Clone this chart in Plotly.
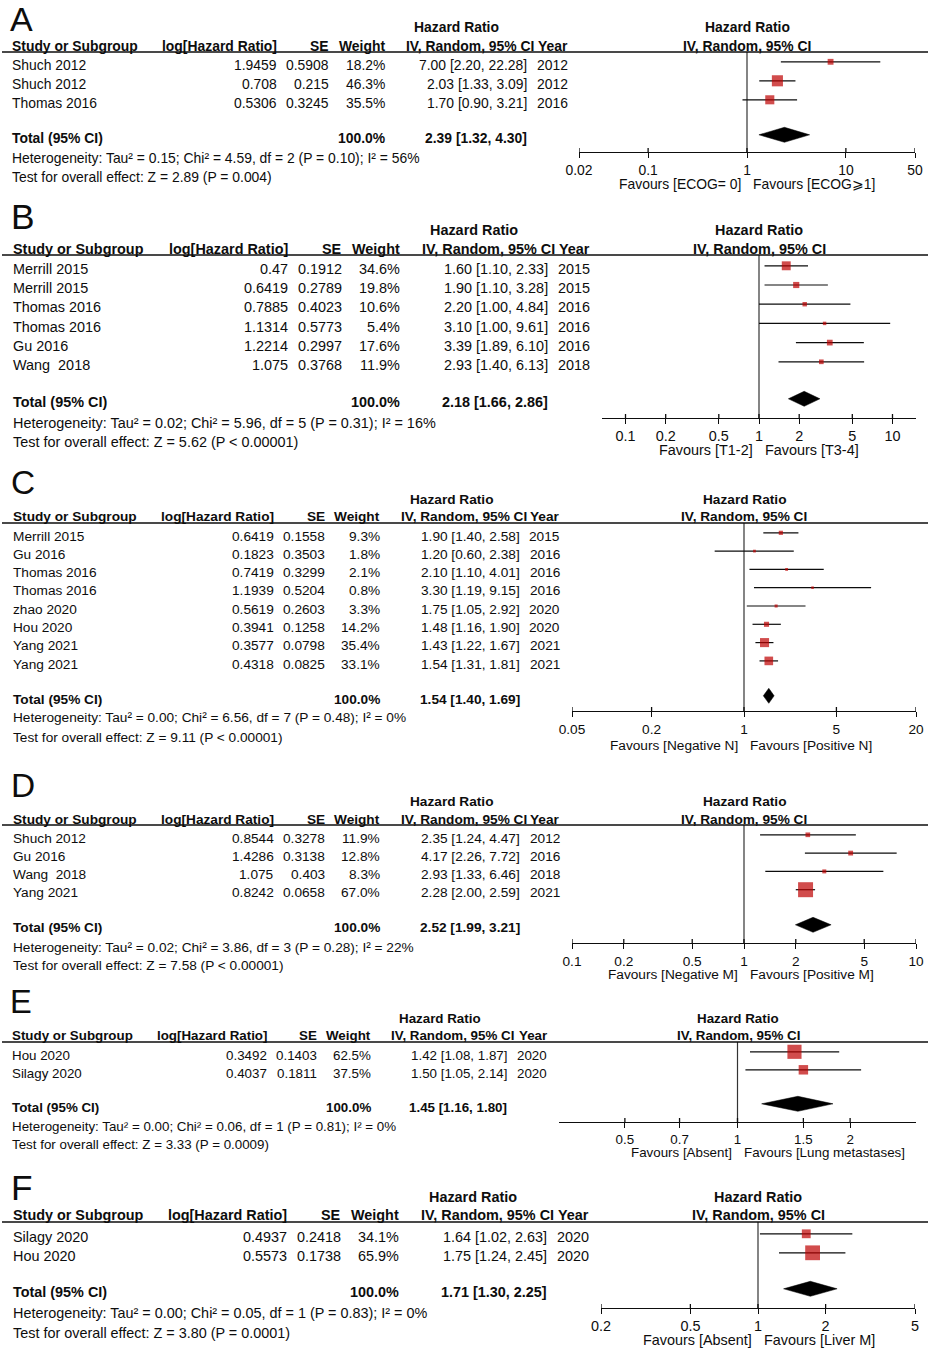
import math
import plotly.graph_objects as go

W, H = 930, 1350
FONT = "Liberation Sans, Arial, sans-serif"
RED = "#BE0000"
INK = "#0d0d0d"

# ---------------- data ----------------
A_studies = ["Shuch 2012", "Shuch 2012", "Thomas 2016"]
A_loghr = [1.9459, 0.708, 0.5306]
A_se = [0.5908, 0.215, 0.3245]
A_weight = [18.2, 46.3, 35.5]
A_hr = [7.00, 2.03, 1.70]
A_lo = [2.20, 1.33, 0.90]
A_hi = [22.28, 3.09, 3.21]
A_year = [2012, 2012, 2016]
A_total = [2.39, 1.32, 4.30]
A_het = "Heterogeneity: Tau² = 0.15; Chi² = 4.59, df = 2 (P = 0.10); I² = 56%"
A_test = "Test for overall effect: Z = 2.89 (P = 0.004)"
A_ticks = [0.02, 0.1, 1, 10, 50]
A_range = [0.02, 50]
A_favours = ["Favours [ECOG= 0]", "Favours [ECOG⩾1]"]

B_studies = ["Merrill 2015", "Merrill 2015", "Thomas 2016", "Thomas 2016", "Gu 2016", "Wang  2018"]
B_loghr = [0.47, 0.6419, 0.7885, 1.1314, 1.2214, 1.075]
B_se = [0.1912, 0.2789, 0.4023, 0.5773, 0.2997, 0.3768]
B_weight = [34.6, 19.8, 10.6, 5.4, 17.6, 11.9]
B_hr = [1.60, 1.90, 2.20, 3.10, 3.39, 2.93]
B_lo = [1.10, 1.10, 1.00, 1.00, 1.89, 1.40]
B_hi = [2.33, 3.28, 4.84, 9.61, 6.10, 6.13]
B_year = [2015, 2015, 2016, 2016, 2016, 2018]
B_total = [2.18, 1.66, 2.86]
B_het = "Heterogeneity: Tau² = 0.02; Chi² = 5.96, df = 5 (P = 0.31); I² = 16%"
B_test = "Test for overall effect: Z = 5.62 (P < 0.00001)"
B_ticks = [0.1, 0.2, 0.5, 1, 2, 5, 10]
B_range = [1 / 15, 15]
B_favours = ["Favours [T1-2]", "Favours [T3-4]"]

C_studies = ["Merrill 2015", "Gu 2016", "Thomas 2016", "Thomas 2016", "zhao 2020", "Hou 2020", "Yang 2021", "Yang 2021"]
C_loghr = [0.6419, 0.1823, 0.7419, 1.1939, 0.5619, 0.3941, 0.3577, 0.4318]
C_se = [0.1558, 0.3503, 0.3299, 0.5204, 0.2603, 0.1258, 0.0798, 0.0825]
C_weight = [9.3, 1.8, 2.1, 0.8, 3.3, 14.2, 35.4, 33.1]
C_hr = [1.90, 1.20, 2.10, 3.30, 1.75, 1.48, 1.43, 1.54]
C_lo = [1.40, 0.60, 1.10, 1.19, 1.05, 1.16, 1.22, 1.31]
C_hi = [2.58, 2.38, 4.01, 9.15, 2.92, 1.90, 1.67, 1.81]
C_year = [2015, 2016, 2016, 2016, 2020, 2020, 2021, 2021]
C_total = [1.54, 1.40, 1.69]
C_het = "Heterogeneity: Tau² = 0.00; Chi² = 6.56, df = 7 (P = 0.48); I² = 0%"
C_test = "Test for overall effect: Z = 9.11 (P < 0.00001)"
C_ticks = [0.05, 0.2, 1, 5, 20]
C_range = [0.05, 20]
C_favours = ["Favours [Negative N]", "Favours [Positive N]"]

D_studies = ["Shuch 2012", "Gu 2016", "Wang  2018", "Yang 2021"]
D_loghr = [0.8544, 1.4286, 1.075, 0.8242]
D_se = [0.3278, 0.3138, 0.403, 0.0658]
D_weight = [11.9, 12.8, 8.3, 67.0]
D_hr = [2.35, 4.17, 2.93, 2.28]
D_lo = [1.24, 2.26, 1.33, 2.00]
D_hi = [4.47, 7.72, 6.46, 2.59]
D_year = [2012, 2016, 2018, 2021]
D_total = [2.52, 1.99, 3.21]
D_het = "Heterogeneity: Tau² = 0.02; Chi² = 3.86, df = 3 (P = 0.28); I² = 22%"
D_test = "Test for overall effect: Z = 7.58 (P < 0.00001)"
D_ticks = [0.1, 0.2, 0.5, 1, 2, 5, 10]
D_range = [0.1, 10]
D_favours = ["Favours [Negative M]", "Favours [Positive M]"]

E_studies = ["Hou 2020", "Silagy 2020"]
E_loghr = [0.3492, 0.4037]
E_se = [0.1403, 0.1811]
E_weight = [62.5, 37.5]
E_hr = [1.42, 1.50]
E_lo = [1.08, 1.05]
E_hi = [1.87, 2.14]
E_year = [2020, 2020]
E_total = [1.45, 1.16, 1.80]
E_het = "Heterogeneity: Tau² = 0.00; Chi² = 0.06, df = 1 (P = 0.81); I² = 0%"
E_test = "Test for overall effect: Z = 3.33 (P = 0.0009)"
E_ticks = [0.5, 0.7, 1, 1.5, 2]
E_range = [1 / 3, 3]
E_favours = ["Favours [Absent]", "Favours [Lung metastases]"]

F_studies = ["Silagy 2020", "Hou 2020"]
F_loghr = [0.4937, 0.5573]
F_se = [0.2418, 0.1738]
F_weight = [34.1, 65.9]
F_hr = [1.64, 1.75]
F_lo = [1.02, 1.24]
F_hi = [2.63, 2.45]
F_year = [2020, 2020]
F_total = [1.71, 1.30, 2.25]
F_het = "Heterogeneity: Tau² = 0.00; Chi² = 0.05, df = 1 (P = 0.83); I² = 0%"
F_test = "Test for overall effect: Z = 3.80 (P = 0.0001)"
F_ticks = [0.2, 0.5, 1, 2, 5]
F_range = [0.2, 5]
F_favours = ["Favours [Absent]", "Favours [Liver M]"]

# ---------------- layout (pixel positions) ----------------
LAY = {
    "A": dict(s=1.0, letter_y=19, title_y=27, head_y=46, line_y=52, row0=65, dy=19, total_y=138, het_y=158,
              test_y=177, axis_y=152, fav_y=184, x_study=12, x_lhr=277, x_se=329, x_w=385, x_ci=527,
              x_year=568, x_hrc=456, fx=(579, 915), null_x=747),
    "B": dict(s=1.038, letter_y=216, title_y=230, head_y=249, line_y=255, row0=269, dy=19.2, total_y=402,
              het_y=423, test_y=442, axis_y=418, fav_y=450, x_study=13, x_lhr=288, x_se=342, x_w=400,
              x_ci=548, x_year=590, x_hrc=474, fx=(602, 916), null_x=759),
    "C": dict(s=0.984, letter_y=483, title_y=499, head_y=516, line_y=523, row0=536, dy=18.3, total_y=699,
              het_y=718, test_y=737, axis_y=711, fav_y=745, x_study=13, x_lhr=274, x_se=325, x_w=380,
              x_ci=520, x_year=560, x_hrc=451, fx=(572, 916), null_x=744),
    "D": dict(s=0.984, letter_y=785, title_y=801, head_y=819, line_y=825, row0=838, dy=18.3, total_y=928,
              het_y=947, test_y=966, axis_y=943, fav_y=974, x_study=13, x_lhr=274, x_se=325, x_w=380,
              x_ci=520, x_year=560, x_hrc=451, fx=(572, 916), null_x=744),
    "E": dict(s=0.961, letter_y=1001, title_y=1018, head_y=1035, line_y=1042, row0=1055, dy=18, total_y=1107,
              het_y=1126, test_y=1144, axis_y=1122, fav_y=1152, x_study=12, x_lhr=267, x_se=317, x_w=371,
              x_ci=507, x_year=547, x_hrc=440, fx=(559, 916), null_x=738),
    "F": dict(s=1.036, letter_y=1187, title_y=1197, head_y=1215, line_y=1222, row0=1237, dy=19, total_y=1292,
              het_y=1313, test_y=1333, axis_y=1308, fav_y=1340, x_study=13, x_lhr=287, x_se=341, x_w=399,
              x_ci=547, x_year=589, x_hrc=473, fx=(601, 915), null_x=758),
}

PANELS = [
    ("A", A_studies, A_loghr, A_se, A_weight, A_hr, A_lo, A_hi, A_year, A_total, A_het, A_test, A_ticks, A_range, A_favours),
    ("B", B_studies, B_loghr, B_se, B_weight, B_hr, B_lo, B_hi, B_year, B_total, B_het, B_test, B_ticks, B_range, B_favours),
    ("C", C_studies, C_loghr, C_se, C_weight, C_hr, C_lo, C_hi, C_year, C_total, C_het, C_test, C_ticks, C_range, C_favours),
    ("D", D_studies, D_loghr, D_se, D_weight, D_hr, D_lo, D_hi, D_year, D_total, D_het, D_test, D_ticks, D_range, D_favours),
    ("E", E_studies, E_loghr, E_se, E_weight, E_hr, E_lo, E_hi, E_year, E_total, E_het, E_test, E_ticks, E_range, E_favours),
    ("F", F_studies, F_loghr, F_se, F_weight, F_hr, F_lo, F_hi, F_year, F_total, F_het, F_test, F_ticks, F_range, F_favours),
]

BASE_FS = 13.9
MARK_OFF = 3.2      # squares sit slightly above the text centre line
DIAMOND_HALF = 7.5
TICK_UP = 4

fig = go.Figure()
annotations = []
shapes = []


def px(x):
    return x / W


def py(y):
    return 1 - y / H


def text(x, y, t, anchor="left", size=BASE_FS, bold=False, color=INK):
    if bold:
        t = "<b>" + t + "</b>"
    annotations.append(dict(x=px(x), y=py(y), xref="paper", yref="paper", text=t, showarrow=False,
                            xanchor=anchor, yanchor="middle", borderpad=0, borderwidth=0,
                            font=dict(family=FONT, size=size, color=color)))


def fmt_ci(v):
    return f"{v[0]:.2f} [{v[1]:.2f}, {v[2]:.2f}]"


for idx, (key, studies, loghr, se, weight, hr, lo, hi, year, total, het, test, ticks, rng, fav) in enumerate(PANELS):
    L = LAY[key]
    s = L["s"]
    fs = BASE_FS * s
    n = len(studies)
    rows = [L["row0"] + i * L["dy"] for i in range(n)]
    x_ivh = L["x_year"] - 34 * s

    # ---- left table ----
    text(L["x_study"] - 2, L["letter_y"], key, size=34 * s)
    text(L["x_hrc"], L["title_y"], "Hazard Ratio", anchor="center", size=fs, bold=True)
    text(L["x_study"], L["head_y"], "Study or Subgroup", size=fs, bold=True)
    text(L["x_lhr"], L["head_y"], "log[Hazard Ratio]", anchor="right", size=fs, bold=True)
    text(L["x_se"], L["head_y"], "SE", anchor="right", size=fs, bold=True)
    text(L["x_w"], L["head_y"], "Weight", anchor="right", size=fs, bold=True)
    text(x_ivh, L["head_y"], "IV, Random, 95% CI", anchor="right", size=fs, bold=True)
    text(L["x_year"], L["head_y"], "Year", anchor="right", size=fs, bold=True)
    for i in range(n):
        y = rows[i]
        text(L["x_study"], y, studies[i], size=fs)
        text(L["x_lhr"], y, str(loghr[i]), anchor="right", size=fs)
        text(L["x_se"], y, str(se[i]), anchor="right", size=fs)
        text(L["x_w"], y, f"{weight[i]:.1f}%", anchor="right", size=fs)
        text(L["x_ci"], y, fmt_ci([hr[i], lo[i], hi[i]]), anchor="right", size=fs)
        text(L["x_year"], y, str(year[i]), anchor="right", size=fs)
    text(L["x_study"], L["total_y"], "Total (95% CI)", size=fs, bold=True)
    text(L["x_w"], L["total_y"], "100.0%", anchor="right", size=fs, bold=True)
    text(L["x_ci"], L["total_y"], fmt_ci(total), anchor="right", size=fs, bold=True)
    text(L["x_study"], L["het_y"], het, size=fs)
    text(L["x_study"], L["test_y"], test, size=fs)

    # header rule
    shapes.append(dict(type="line", xref="paper", yref="paper", x0=px(2), x1=px(928),
                       y0=py(L["line_y"]), y1=py(L["line_y"]), line=dict(color=INK, width=1.3)))

    # ---- forest plot ----
    sfx = "" if idx == 0 else str(idx + 1)
    xa, ya = "x" + sfx, "y" + sfx
    fig.update_layout(**{
        "xaxis" + sfx: dict(type="log", range=[math.log10(rng[0]), math.log10(rng[1])],
                            domain=[px(L["fx"][0]), px(L["fx"][1])], anchor=ya, automargin=False,
                            showline=True, linecolor=INK, linewidth=1.3, mirror=False,
                            ticks="outside", ticklen=5, tickwidth=1.3, tickcolor=INK,
                            tickvals=ticks, ticktext=[f"{t:g}" for t in ticks],
                            tickfont=dict(family=FONT, size=fs, color=INK),
                            showgrid=False, zeroline=False, fixedrange=True),
        "yaxis" + sfx: dict(range=[L["axis_y"], L["line_y"]], domain=[py(L["axis_y"]), py(L["line_y"])],
                            anchor=xa, visible=False, automargin=False, showgrid=False, zeroline=False,
                            fixedrange=True),
    })

    # null line
    fig.add_trace(go.Scatter(x=[1, 1], y=[L["line_y"], L["axis_y"]], mode="lines", xaxis=xa, yaxis=ya,
                             line=dict(color="#333333", width=1.2), hoverinfo="skip"))
    # upper half of crossing ticks
    tx, ty = [], []
    for t in ticks:
        tx += [t, t, None]
        ty += [L["axis_y"] - TICK_UP, L["axis_y"], None]
    fig.add_trace(go.Scatter(x=tx, y=ty, mode="lines", xaxis=xa, yaxis=ya,
                             line=dict(color=INK, width=1.3), hoverinfo="skip"))
    # CI whiskers
    my = [r - MARK_OFF for r in rows]
    cx, cy = [], []
    for i in range(n):
        cx += [lo[i], hi[i], None]
        cy += [my[i], my[i], None]
    fig.add_trace(go.Scatter(x=cx, y=cy, mode="lines", xaxis=xa, yaxis=ya,
                             line=dict(color=INK, width=1.2), hoverinfo="skip"))
    # weighted squares
    fig.add_trace(go.Scatter(x=hr, y=my, mode="markers", xaxis=xa, yaxis=ya,
                             marker=dict(symbol="square", color=RED, size=[2.45 + 0.187 * w for w in weight],
                                         line=dict(width=0)), hoverinfo="skip"))
    # pooled diamond
    dyc = L["total_y"] - MARK_OFF
    fig.add_trace(go.Scatter(x=[total[1], total[0], total[2], total[0], total[1]],
                             y=[dyc, dyc - DIAMOND_HALF, dyc, dyc + DIAMOND_HALF, dyc],
                             mode="lines", fill="toself", fillcolor="#000000", xaxis=xa, yaxis=ya,
                             line=dict(color="#000000", width=0.5), hoverinfo="skip"))

    # right header and favours labels
    text(L["null_x"], L["title_y"], "Hazard Ratio", anchor="center", size=fs, bold=True)
    text(L["null_x"], L["head_y"], "IV, Random, 95% CI", anchor="center", size=fs, bold=True)
    text(L["null_x"] - 6, L["fav_y"], fav[0], anchor="right", size=fs)
    text(L["null_x"] + 6, L["fav_y"], fav[1], anchor="left", size=fs)

fig.update_layout(width=W, height=H, margin=dict(l=0, r=0, t=0, b=0, pad=0, autoexpand=False),
                  paper_bgcolor="white", plot_bgcolor="rgba(0,0,0,0)", showlegend=False,
                  annotations=annotations, shapes=shapes, font=dict(family=FONT, color=INK))

fig.write_html("out.html", config={"displayModeBar": False},
               post_script="document.body.style.margin='0';document.body.style.overflow='hidden';")
